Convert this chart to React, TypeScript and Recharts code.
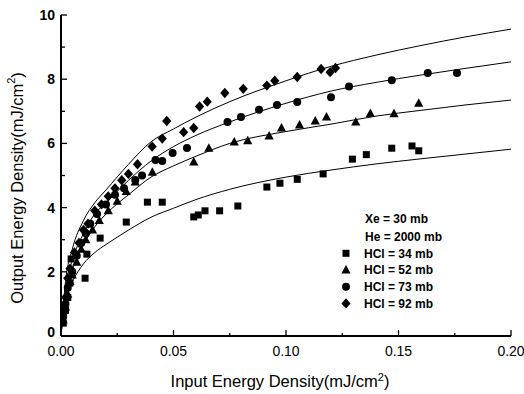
import React from "react";
import { ComposedChart, Line, Scatter, XAxis, YAxis } from "recharts";

// ---- tick values ----
const xTickValues = [0, 0.025, 0.05, 0.075, 0.1, 0.125, 0.15, 0.175, 0.2];
const xTickLabels = ["0.00", "", "0.05", "", "0.10", "", "0.15", "", "0.20"];
const yTickValues = [0, 1, 2, 3, 4, 5, 6, 7, 8, 9, 10];
const yTickLabels = ["0", "", "2", "", "4", "", "6", "", "8", "", "10"];

// ---- measured points [x, y] ----
const hcl34Points: [number, number][] = [
  [0.001, 0.4], [0.002, 0.8], [0.003, 1.2], [0.004, 1.65], [0.0045, 2.4],
  [0.0107, 1.8], [0.0115, 2.55], [0.0174, 3.05], [0.029, 3.55], [0.0384, 4.17],
  [0.045, 4.17], [0.059, 3.71], [0.061, 3.77], [0.064, 3.9], [0.0705, 3.9],
  [0.0786, 4.05], [0.0915, 4.64], [0.0973, 4.76], [0.105, 4.88], [0.1165, 5.05],
  [0.1295, 5.51], [0.1357, 5.65], [0.147, 5.85], [0.156, 5.92], [0.159, 5.77],
];
const hcl52Points: [number, number][] = [
  [0.001, 0.5], [0.002, 0.9], [0.003, 1.3], [0.004, 1.7], [0.005, 1.9],
  [0.007, 2.3], [0.009, 2.7], [0.011, 3.0], [0.014, 3.3], [0.017, 3.6],
  [0.021, 3.9], [0.025, 4.2], [0.029, 4.5], [0.033, 4.8], [0.0406, 5.1],
  [0.059, 5.42], [0.0657, 5.85], [0.077, 6.04], [0.083, 6.08], [0.0925, 6.23],
  [0.098, 6.48], [0.106, 6.57], [0.113, 6.7], [0.118, 6.82], [0.131, 6.67],
  [0.1375, 6.93], [0.148, 6.92], [0.159, 7.25],
];
const hcl73Points: [number, number][] = [
  [0.001, 0.6], [0.002, 1.0], [0.003, 1.5], [0.005, 2.0], [0.007, 2.5],
  [0.009, 2.9], [0.011, 3.2], [0.013, 3.5], [0.016, 3.8], [0.02, 4.1],
  [0.024, 4.4], [0.028, 4.6], [0.033, 4.86], [0.036, 5.0], [0.042, 5.48],
  [0.045, 5.45], [0.0496, 5.7], [0.056, 5.86], [0.074, 6.67], [0.08, 6.82],
  [0.088, 7.05], [0.096, 7.2], [0.105, 7.29], [0.12, 7.44], [0.128, 7.77],
  [0.147, 7.97], [0.163, 8.19], [0.176, 8.19],
];
const hcl92Points: [number, number][] = [
  [0.001, 0.7], [0.002, 1.2], [0.003, 1.8], [0.004, 2.1], [0.006, 2.6],
  [0.008, 2.9], [0.01, 3.3], [0.012, 3.5], [0.015, 3.9], [0.018, 4.1],
  [0.021, 4.35], [0.024, 4.6], [0.027, 4.85], [0.03, 5.05], [0.034, 5.35],
  [0.0405, 5.9], [0.045, 6.15], [0.047, 6.7], [0.0545, 6.35], [0.059, 6.48],
  [0.0616, 7.15], [0.065, 7.3], [0.0728, 7.57], [0.081, 7.7], [0.0915, 7.8],
  [0.095, 7.95], [0.105, 8.07], [0.1156, 8.32], [0.1196, 8.22], [0.122, 8.35],
];

// ---- fitted curves [x, y] ----
const hcl34Fit: [number, number][] = [
  [0, 0], [0.001, 0.9], [0.0025, 1.35], [0.005, 1.7], [0.0075, 2.0], [0.01, 2.25],
  [0.015, 2.6], [0.02, 2.85], [0.025, 3.08], [0.03, 3.3], [0.04, 3.7], [0.05, 3.98],
  [0.06, 4.25], [0.075, 4.57], [0.1, 4.95], [0.12, 5.17], [0.14, 5.36], [0.16, 5.52],
  [0.18, 5.67], [0.2, 5.82],
];
const hcl52Fit: [number, number][] = [
  [0, 0], [0.002, 1.3], [0.005, 2.05], [0.01, 2.85], [0.015, 3.4], [0.02, 3.8],
  [0.03, 4.4], [0.04, 4.95], [0.05, 5.3], [0.06, 5.6], [0.075, 6.0], [0.1, 6.37],
  [0.12, 6.6], [0.14, 6.85], [0.16, 7.03], [0.18, 7.2], [0.2, 7.35],
];
const hcl73Fit: [number, number][] = [
  [0, 0], [0.002, 1.5], [0.005, 2.35], [0.01, 3.2], [0.015, 3.8], [0.02, 4.15],
  [0.03, 4.85], [0.04, 5.45], [0.05, 5.9], [0.06, 6.25], [0.075, 6.67], [0.1, 7.25],
  [0.12, 7.63], [0.14, 7.9], [0.16, 8.13], [0.18, 8.34], [0.2, 8.54],
];
const hcl92Fit: [number, number][] = [
  [0, 0], [0.002, 1.7], [0.005, 2.7], [0.01, 3.6], [0.015, 4.15], [0.02, 4.55],
  [0.03, 5.35], [0.04, 6.05], [0.05, 6.45], [0.06, 6.82], [0.075, 7.3], [0.1, 7.95],
  [0.12, 8.4], [0.14, 8.75], [0.16, 9.05], [0.18, 9.32], [0.2, 9.56],
];

const legendHeader = ["Xe = 30 mb", "He = 2000 mb"];
const seriesNames = ["HCl = 34 mb", "HCl = 52 mb", "HCl = 73 mb", "HCl = 92 mb"];

const toObj = (arr: [number, number][]) => arr.map(([x, y]) => ({ x, y }));

const FONT = "'Liberation Sans', Arial, Helvetica, sans-serif";

// ---- marker shapes ----
const SquareShape = (p: any) => (
  <rect x={p.cx - 3.5} y={p.cy - 3.5} width={7} height={7} fill="#000" />
);
const TriangleShape = (p: any) => (
  <polygon
    points={`${p.cx},${p.cy - 5} ${p.cx - 4.6},${p.cy + 3.5} ${p.cx + 4.6},${p.cy + 3.5}`}
    fill="#000"
  />
);
const CircleShape = (p: any) => <circle cx={p.cx} cy={p.cy} r={4} fill="#000" />;
const DiamondShape = (p: any) => (
  <polygon
    points={`${p.cx},${p.cy - 5.2} ${p.cx + 4.6},${p.cy} ${p.cx},${p.cy + 5.2} ${p.cx - 4.6},${p.cy}`}
    fill="#000"
  />
);
const shapes = [SquareShape, TriangleShape, CircleShape, DiamondShape];

// ---- ticks ----
const BottomTick = (p: any) => {
  const idx = xTickValues.indexOf(p.payload.value);
  const label = xTickLabels[idx] || "";
  const len = label ? 6 : 3;
  return (
    <g>
      <line x1={p.x} y1={p.y} x2={p.x} y2={p.y - len} stroke="#000" strokeWidth={1.3} />
      {label && (
        <text x={p.x} y={p.y + 20} textAnchor="middle" fontSize={14} fontFamily={FONT} fill="#000">
          {label}
        </text>
      )}
    </g>
  );
};
const TopTick = (p: any) => (
  <line x1={p.x} y1={p.y} x2={p.x} y2={p.y + 6} stroke="#000" strokeWidth={1.3} />
);
const LeftTick = (p: any) => {
  const idx = yTickValues.indexOf(p.payload.value);
  const label = yTickLabels[idx] || "";
  const len = label ? 6 : 4;
  const dy = p.payload.value === 0 ? 1 : 5;
  return (
    <g>
      <line x1={p.x} y1={p.y} x2={p.x + len} y2={p.y} stroke="#000" strokeWidth={1.3} />
      {label && (
        <text x={p.x - 6} y={p.y + dy} textAnchor="end" fontSize={14} fontWeight="bold" fontFamily={FONT} fill="#000">
          {label}
        </text>
      )}
    </g>
  );
};
const RightTick = (p: any) => (
  <line x1={p.x} y1={p.y} x2={p.x - 5} y2={p.y} stroke="#000" strokeWidth={1.3} />
);

const Legendish = () => (
  <svg width={160} height={110} style={{ position: "absolute", left: 335, top: 208 }}>
    {legendHeader.map((t, i) => (
      <text key={t} x={30} y={15 + i * 18.4} fontSize={12} fontWeight="bold" fontFamily={FONT} fill="#000">
        {t}
      </text>
    ))}
    {seriesNames.map((t, i) => {
      const Shape = shapes[i];
      const cy = 45.3 + i * 16.7;
      return (
        <g key={t}>
          <Shape cx={11} cy={cy} />
          <text x={29} y={cy + 4.3} fontSize={12} fontWeight="bold" fontFamily={FONT} fill="#000">
            {t}
          </text>
        </g>
      );
    })}
  </svg>
);

const pointSets = [hcl34Points, hcl52Points, hcl73Points, hcl92Points];
const fitSets = [hcl34Fit, hcl52Fit, hcl73Fit, hcl92Fit];

export default function App() {
  return (
    <div style={{ position: "absolute", left: 0, top: 0, width: 524, height: 394, background: "#fff" }}>
      <ComposedChart
        width={524}
        height={394}
        margin={{ top: 15, right: 13, bottom: 0, left: 0 }}
        style={{ fontFamily: FONT }}
      >
        <XAxis
          dataKey="x"
          type="number"
          domain={[0, 0.2]}
          ticks={xTickValues}
          interval={0}
          height={58}
          tickSize={0}
          tickMargin={0}
          tickLine={false}
          tick={<BottomTick />}
          axisLine={{ stroke: "#000", strokeWidth: 2 }}
          allowDataOverflow
        />
        <XAxis
          xAxisId="top"
          orientation="top"
          dataKey="x"
          type="number"
          domain={[0, 0.2]}
          ticks={xTickValues}
          interval={0}
          height={0}
          tickSize={0}
          tickMargin={0}
          tickLine={false}
          tick={<TopTick />}
          axisLine={{ stroke: "#000", strokeWidth: 2 }}
          allowDataOverflow
        />
        <YAxis
          type="number"
          domain={[0, 10]}
          ticks={yTickValues}
          interval={0}
          width={61}
          tickSize={0}
          tickMargin={0}
          tickLine={false}
          tick={<LeftTick />}
          axisLine={{ stroke: "#000", strokeWidth: 2 }}
          allowDataOverflow
        />
        <YAxis
          yAxisId="right"
          orientation="right"
          type="number"
          domain={[0, 10]}
          ticks={yTickValues}
          interval={0}
          width={0}
          tickSize={0}
          tickMargin={0}
          tickLine={false}
          tick={<RightTick />}
          axisLine={{ stroke: "#000", strokeWidth: 2 }}
          allowDataOverflow
        />
        {fitSets.map((f, i) => (
          <Line
            key={"fit" + i}
            data={toObj(f)}
            dataKey="y"
            type="monotone"
            stroke="#000"
            strokeWidth={1}
            dot={false}
            activeDot={false}
            legendType="none"
            isAnimationActive={false}
          />
        ))}
        {pointSets.map((pts, i) => (
          <Scatter
            key={"pts" + i}
            name={seriesNames[i]}
            data={toObj(pts)}
            dataKey="y"
            shape={shapes[i]}
            isAnimationActive={false}
          />
        ))}
        <text
          x={17}
          y={188}
          transform="rotate(-90 17 188)"
          textAnchor="middle"
          dominantBaseline="central"
          fontSize={16.5}
          fontFamily={FONT}
          fill="#000"
        >
          Output Energy Density(mJ/cm<tspan fontSize={11} dy={-6}>2</tspan>
          <tspan dy={6}>)</tspan>
        </text>
        <text x={280} y={387} textAnchor="middle" fontSize={16.5} fontFamily={FONT} fill="#000">
          Input Energy Density(mJ/cm<tspan fontSize={11} dy={-6}>2</tspan>
          <tspan dy={6}>)</tspan>
        </text>
      </ComposedChart>
      <Legendish />
    </div>
  );
}
